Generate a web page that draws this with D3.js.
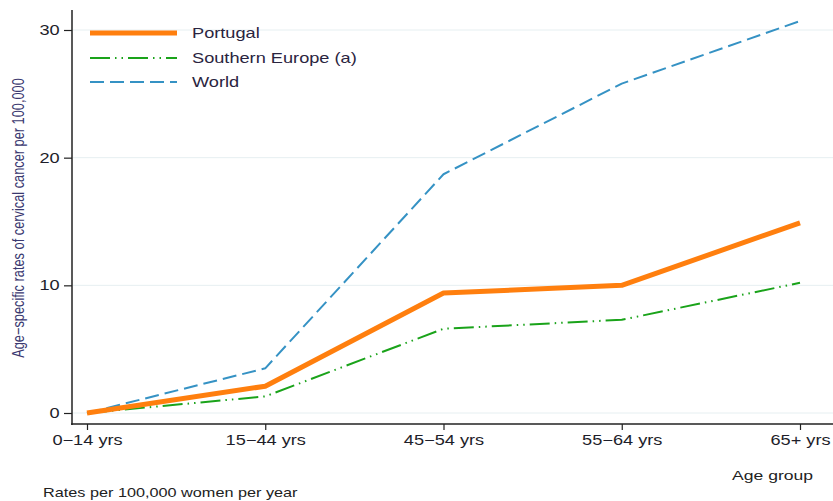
<!DOCTYPE html>
<html><head><meta charset="utf-8">
<script src="https://cdn.jsdelivr.net/npm/d3@7"></script>
<style>body{margin:0;background:#fff}svg{display:block;font-family:"Liberation Sans",Arial,sans-serif}</style>
</head><body>
<svg id="c" width="833" height="501"></svg>
<script>
const categories = ["0\u221214 yrs","15\u221244 yrs","45\u221254 yrs","55\u221264 yrs","65+ yrs"];
const portugal = [0, 2.1, 9.4, 10.0, 14.9];
const southernEurope = [0, 1.3, 6.6, 7.3, 10.2];
const world = [0, 3.5, 18.7, 25.8, 30.7];
const yTicks = [0, 10, 20, 30];
const seriesNames = ["Portugal", "Southern Europe (a)", "World"];

const SX = 1.3; // horizontal stretch of the reference text
const svg = d3.select("#c");
const x = d3.scalePoint().domain(categories).range([87, 800]);
const y = d3.scaleLinear().domain([0, 30]).range([413, 30]);

// gridlines
svg.append("g").selectAll("line").data(yTicks).join("line")
  .attr("x1", 73).attr("x2", 833).attr("y1", d => y(d)).attr("y2", d => y(d))
  .attr("stroke", "#e6eff1").attr("stroke-width", 1);

// y axis
const ya = svg.append("g").attr("transform", "translate(72,0)")
  .call(d3.axisLeft(y).tickValues(yTicks).tickSize(8).tickPadding(4));
ya.select(".domain").remove();
ya.append("line").attr("x1",0).attr("x2",0).attr("y1",10).attr("y2",425).attr("stroke","#222").attr("stroke-width",1.5);
ya.selectAll(".tick line").attr("stroke","#222").attr("stroke-width",1.2);
ya.selectAll(".tick text").attr("fill","#1e1e2a").style("font-size","14px")
  .attr("x", -9.5).attr("transform", `scale(${SX},1)`);

// x axis
const xa = svg.append("g").attr("transform", "translate(0,424)")
  .call(d3.axisBottom(x).tickSize(6).tickPadding(4));
xa.select(".domain").remove();
xa.append("line").attr("x1",71).attr("x2",833).attr("y1",0).attr("y2",0).attr("stroke","#222").attr("stroke-width",1.5);
xa.selectAll(".tick line").attr("stroke","#222").attr("stroke-width",1.2);
xa.selectAll(".tick text").attr("fill","#1e1e2a").style("font-size","14px")
  .attr("dy", null).attr("y", 21).attr("transform", `scale(${SX},1)`);

const line = d3.line().x((d,i) => x(categories[i])).y(d => y(d));
const styles = [
  {data: portugal, color: "#ff7f0e", width: 5, dash: null},
  {data: southernEurope, color: "#1aa31a", width: 2, dash: "20,5,1.5,5,1.5,5"},
  {data: world, color: "#3592c4", width: 2, dash: "14,6"}
];
[2,1,0].forEach(i => {
  const s = styles[i];
  svg.append("path").datum(s.data).attr("d", line)
    .attr("fill","none").attr("stroke", s.color).attr("stroke-width", s.width)
    .attr("stroke-dasharray", s.dash).attr("stroke-linejoin","round");
});

function stext(px, py, str, size, anchor, fill) {
  return svg.append("text").attr("transform", `translate(${px},${py}) scale(${SX},1)`)
    .attr("text-anchor", anchor).attr("fill", fill).style("font-size", size + "px").text(str);
}

// legend
const legendY = [33, 58, 82];
seriesNames.forEach((n,i) => {
  const s = styles[i];
  svg.append("line").attr("x1",90).attr("x2",177).attr("y1",legendY[i]).attr("y2",legendY[i])
    .attr("stroke", s.color).attr("stroke-width", s.width).attr("stroke-dasharray", s.dash);
  stext(192, legendY[i] + 5, n, 14, "start", "#2a2440");
});

// y label
svg.append("text").attr("transform","translate(24,218) scale(1.3,1) rotate(-90)")
  .attr("text-anchor","middle").attr("fill","#3a3870").style("font-size","12.8px")
  .text("Age\u2212specific rates of cervical cancer per 100,000");

stext(813, 480, "Age group", 13.5, "end", "#222");
stext(43, 497, "Rates per 100,000 women per year", 12.5, "start", "#222");
</script>
</body></html>
